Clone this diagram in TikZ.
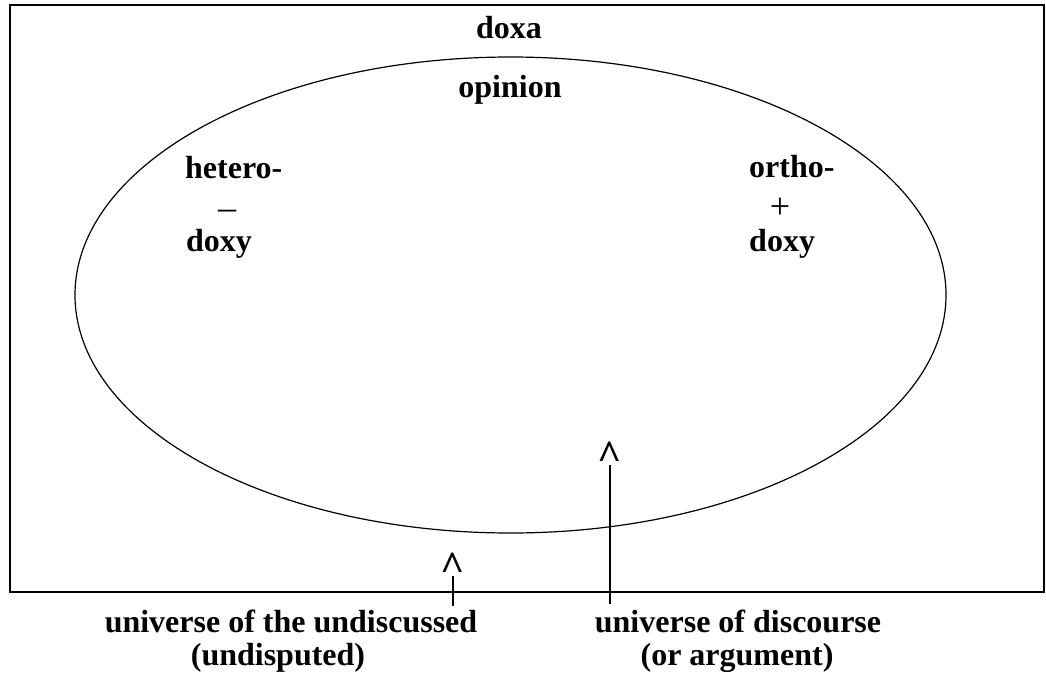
\documentclass[tikz,border=0pt]{standalone}
\usepackage{fontspec}
\setmainfont{Liberation Serif}
\usepackage{tikz}
\usetikzlibrary{calc}

\begin{document}
\begin{tikzpicture}[
  x=1pt,y=-1pt,
  lbl/.style={font=\fontsize{32}{38}\selectfont\bfseries,inner sep=0pt,anchor=base},
  lblw/.style={lbl,anchor=base west},
  sgn/.style={font=\fontsize{36}{36}\selectfont,inner sep=0pt},
  caret/.style={font=\fontsize{42}{42}\selectfont\bfseries,inner sep=0pt},
  stem/.style={line width=1.5pt},
]
  \useasboundingbox (0,0) rectangle (1046,680);
  % frame and field of opinion
  \draw[line width=1.6pt] (10,5) rectangle (1044,592);
  \draw[line width=1.2pt] (510.5,295) ellipse [x radius=435.5, y radius=238];
  % top labels
  \node[lbl] (doxa) at (509,38) {doxa};
  \node[lbl] (opinion) at (510,97) {opinion};
  % left side
  \node[lblw] (hetero) at (185,178) {hetero-};
  \node[sgn] (minus) at (227,215) {--};
  \node[lblw] (doxyL) at (186,251) {doxy};
  % right side
  \node[lblw] (ortho) at (749,177) {ortho-};
  \node[sgn] (plus) at (780,208) {+};
  \node[lblw] (doxyR) at (749,251) {doxy};
  % carets
  \node[caret] (caretL) at (453,567) {\textasciicircum};
  \node[caret] (caretR) at (610,456) {\textasciicircum};
  % bottom labels
  \node[lbl] (undiscussed) at (291,632) {universe of the undiscussed};
  \node[lbl] (undisputed) at (278,665) {(undisputed)};
  \node[lbl] (discourse) at (738,632) {universe of discourse};
  \node[lbl] (argument) at (737,665) {(or argument)};
  % stems
  \draw[stem] ($(caretL.south)+(0,-5)$) -- ($(undiscussed.north -| caretL)+(0,-3)$);
  \draw[stem] ($(caretR.south)+(0,-5)$) -- ($(discourse.north -| caretR)+(0,-5)$);
\end{tikzpicture}
\end{document}
